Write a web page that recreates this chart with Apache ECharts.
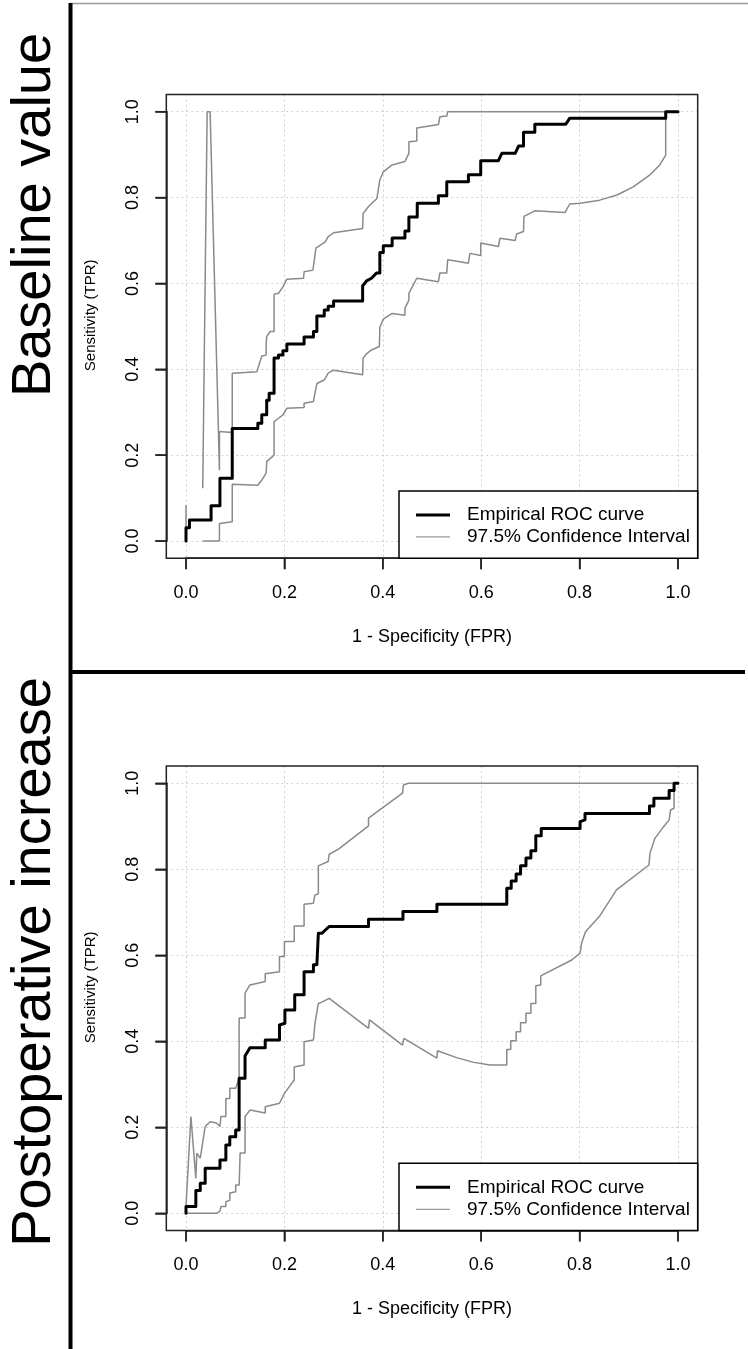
<!DOCTYPE html>
<html><head><meta charset="utf-8">
<script src="https://cdn.jsdelivr.net/npm/echarts@6/dist/echarts.min.js"></script>
<style>html,body{margin:0;padding:0;background:#fff}#c{width:748px;height:1349px}</style>
</head><body><div id="c"></div>
<script>
// ---------- data ----------
const panelTitles = ['Baseline value', 'Postoperative increase'];
const tickValues = [0, 0.2, 0.4, 0.6, 0.8, 1.0];
const seriesNames = ['Empirical ROC curve', '97.5% Confidence Interval'];
const xTitle = '1 - Specificity (FPR)';
const yTitle = 'Sensitivity (TPR)';

// Panel 1: Baseline value
const baseROC = [[0,0],[0,0.031],[0.007,0.031],[0.007,0.049],[0.051,0.049],[0.051,0.082],[0.069,0.082],[0.069,0.146],[0.094,0.146],[0.094,0.262],[0.146,0.262],[0.146,0.274],[0.154,0.274],[0.154,0.294],[0.164,0.294],[0.164,0.328],[0.169,0.328],[0.169,0.344],[0.179,0.344],[0.179,0.426],[0.188,0.426],[0.188,0.433],[0.197,0.433],[0.197,0.443],[0.205,0.443],[0.205,0.459],[0.240,0.459],[0.240,0.475],[0.259,0.475],[0.259,0.488],[0.266,0.488],[0.266,0.524],[0.281,0.524],[0.281,0.538],[0.289,0.538],[0.289,0.547],[0.300,0.547],[0.300,0.559],[0.359,0.559],[0.359,0.594],[0.367,0.606],[0.377,0.612],[0.387,0.624],[0.394,0.624],[0.394,0.672],[0.401,0.672],[0.401,0.688],[0.419,0.688],[0.419,0.706],[0.445,0.706],[0.445,0.722],[0.453,0.722],[0.453,0.755],[0.470,0.755],[0.470,0.787],[0.513,0.787],[0.513,0.804],[0.530,0.804],[0.530,0.837],[0.574,0.837],[0.574,0.853],[0.599,0.853],[0.599,0.886],[0.635,0.886],[0.642,0.903],[0.669,0.903],[0.676,0.920],[0.686,0.920],[0.686,0.952],[0.709,0.952],[0.709,0.971],[0.772,0.971],[0.780,0.985],[0.975,0.985],[0.975,1.0],[1.0,1.0]];
const baseUpper = [[0,0],[0,0.084],null,[0.034,0.123],[0.043,1.0],[0.049,1.0],[0.068,0.165],[0.068,0.255],[0.094,0.253],[0.094,0.391],[0.144,0.394],[0.154,0.431],[0.163,0.433],[0.163,0.46],[0.164,0.476],[0.171,0.488],[0.179,0.488],[0.179,0.575],[0.188,0.577],[0.197,0.592],[0.205,0.61],[0.239,0.612],[0.240,0.627],[0.258,0.631],[0.264,0.682],[0.283,0.697],[0.289,0.709],[0.300,0.718],[0.359,0.728],[0.360,0.763],[0.371,0.779],[0.388,0.798],[0.394,0.841],[0.401,0.860],[0.419,0.876],[0.445,0.884],[0.453,0.903],[0.453,0.93],[0.469,0.932],[0.469,0.962],[0.513,0.970],[0.516,0.988],[0.530,0.990],[0.532,1.0],[1.0,1.0]];
const baseLower = [[0.034,0],[0.068,0],[0.068,0.041],[0.094,0.045],[0.094,0.132],[0.146,0.130],[0.154,0.142],[0.163,0.158],[0.164,0.185],[0.179,0.2],[0.179,0.278],[0.188,0.286],[0.197,0.294],[0.205,0.309],[0.240,0.311],[0.240,0.321],[0.259,0.325],[0.266,0.367],[0.281,0.375],[0.289,0.391],[0.300,0.398],[0.359,0.387],[0.360,0.426],[0.367,0.436],[0.377,0.445],[0.393,0.453],[0.394,0.497],[0.401,0.517],[0.419,0.530],[0.445,0.526],[0.445,0.542],[0.453,0.561],[0.453,0.577],[0.469,0.612],[0.513,0.604],[0.516,0.624],[0.530,0.624],[0.532,0.655],[0.574,0.647],[0.577,0.670],[0.599,0.665],[0.599,0.694],[0.635,0.686],[0.638,0.705],[0.669,0.700],[0.672,0.715],[0.686,0.721],[0.687,0.756],[0.709,0.769],[0.770,0.765],[0.780,0.785],[0.801,0.787],[0.841,0.794],[0.876,0.806],[0.909,0.825],[0.943,0.853],[0.963,0.876],[0.975,0.899],[0.975,1.0],[1.0,1.0]];

// Panel 2: Postoperative increase
const postROC = [[0,0],[0,0.016],[0.020,0.016],[0.020,0.053],[0.029,0.053],[0.029,0.070],[0.039,0.070],[0.039,0.105],[0.069,0.105],[0.069,0.124],[0.081,0.124],[0.081,0.159],[0.089,0.159],[0.089,0.178],[0.101,0.178],[0.101,0.194],[0.108,0.194],[0.108,0.314],[0.120,0.314],[0.120,0.366],[0.130,0.385],[0.161,0.385],[0.161,0.403],[0.190,0.403],[0.190,0.438],[0.201,0.442],[0.201,0.473],[0.221,0.473],[0.221,0.508],[0.240,0.508],[0.240,0.562],[0.259,0.562],[0.259,0.578],[0.266,0.578],[0.269,0.651],[0.276,0.651],[0.291,0.667],[0.371,0.667],[0.371,0.684],[0.441,0.684],[0.441,0.702],[0.510,0.702],[0.510,0.719],[0.652,0.719],[0.652,0.756],[0.661,0.756],[0.661,0.773],[0.671,0.773],[0.671,0.789],[0.680,0.789],[0.680,0.808],[0.691,0.808],[0.691,0.826],[0.701,0.826],[0.701,0.843],[0.711,0.843],[0.711,0.878],[0.722,0.878],[0.722,0.895],[0.801,0.895],[0.801,0.911],[0.811,0.915],[0.811,0.930],[0.942,0.930],[0.942,0.947],[0.951,0.947],[0.951,0.965],[0.982,0.965],[0.982,0.983],[0.992,0.983],[0.992,1.0],[1.0,1.0]];
const postUpper = [[0,0],[0,0.016],[0.010,0.225],[0.020,0.081],[0.022,0.140],[0.029,0.128],[0.039,0.202],[0.049,0.213],[0.062,0.21],[0.069,0.202],[0.071,0.225],[0.081,0.225],[0.081,0.267],[0.089,0.267],[0.089,0.291],[0.101,0.291],[0.108,0.314],[0.108,0.454],[0.120,0.454],[0.120,0.512],[0.130,0.531],[0.161,0.539],[0.161,0.557],[0.190,0.562],[0.190,0.597],[0.200,0.597],[0.200,0.632],[0.220,0.632],[0.220,0.668],[0.240,0.668],[0.240,0.719],[0.259,0.721],[0.262,0.740],[0.269,0.743],[0.269,0.808],[0.289,0.818],[0.291,0.835],[0.310,0.847],[0.371,0.901],[0.371,0.919],[0.440,0.977],[0.442,0.996],[0.452,1.0],[1.0,1.0]];
const postLower = [[0,0],[0.039,0],[0.041,0.004],[0.050,0],[0.062,0],[0.069,0.005],[0.071,0.016],[0.081,0.016],[0.081,0.027],[0.089,0.030],[0.089,0.047],[0.101,0.050],[0.101,0.066],[0.108,0.066],[0.110,0.140],[0.120,0.140],[0.120,0.225],[0.130,0.240],[0.161,0.233],[0.161,0.248],[0.190,0.256],[0.200,0.279],[0.220,0.310],[0.220,0.34],[0.240,0.345],[0.240,0.399],[0.259,0.403],[0.262,0.441],[0.269,0.488],[0.276,0.491],[0.291,0.500],[0.371,0.430],[0.373,0.450],[0.440,0.391],[0.443,0.407],[0.510,0.361],[0.511,0.378],[0.55,0.362],[0.585,0.351],[0.618,0.345],[0.652,0.345],[0.652,0.381],[0.660,0.381],[0.660,0.401],[0.671,0.401],[0.671,0.422],[0.680,0.422],[0.680,0.443],[0.691,0.443],[0.691,0.465],[0.701,0.465],[0.701,0.488],[0.711,0.488],[0.711,0.529],[0.721,0.531],[0.721,0.552],[0.784,0.589],[0.801,0.605],[0.804,0.628],[0.812,0.655],[0.84,0.69],[0.875,0.752],[0.941,0.810],[0.943,0.837],[0.953,0.872],[0.970,0.898],[0.982,0.915],[0.985,0.938],[0.992,0.942],[0.992,1.0],[1.0,1.0]];

// ---------- chart ----------
const FONT = '"Liberation Sans", Arial, Helvetica, sans-serif';
const prep = arr => arr.map(p => p ? p : ['-', '-']);
const panels = [
  {roc: baseROC, up: baseUpper, lo: baseLower, y1: 111.7, y0: 541.0},
  {roc: postROC, up: postUpper, lo: postLower, y1: 783.3, y0: 1213.3}
];
const X0 = 186, X1 = 678, PAD = 0.04;   // R default 4% axis extension
const TICK_LEN = 11;
const grids = [], xAxes = [], yAxes = [], series = [], legends = [], boxes = [];
const split = {show: true, lineStyle: {color: '#d0d0d0', width: 1, type: [2, 3]}};
const axisInk = () => ({color: '#222', width: 1.5});
const hiddenAxis = gi => ({type: 'value', gridIndex: gi, min: 0, max: 1, show: false});
panels.forEach((p, i) => {
  const sx = (X1 - X0) * PAD, sy = (p.y0 - p.y1) * PAD;
  const boxTop = p.y1 - sy, boxBottom = p.y0 + sy, boxLeft = X0 - sx, boxRight = X1 + sx;
  const gi = grids.length;
  p.gi = gi; p.boxBottom = boxBottom; p.boxLeft = boxLeft;
  // (a) data grid = full plot box (frame drawn separately below)
  grids.push({left: boxLeft, top: boxTop, width: boxRight - boxLeft, height: boxBottom - boxTop, show: false});
  xAxes.push({type: 'value', gridIndex: gi, min: -PAD, max: 1 + PAD,
    axisLine: {show: false}, axisTick: {show: false, customValues: tickValues},
    axisLabel: {show: false, customValues: tickValues}, splitLine: split});
  yAxes.push({type: 'value', gridIndex: gi, min: -PAD, max: 1 + PAD,
    axisLine: {show: false}, axisTick: {show: false, customValues: tickValues},
    axisLabel: {show: false, customValues: tickValues}, splitLine: split});
  // (b) x-axis grid: spans 0..1 horizontally, its bottom (y=0) sits on the box bottom
  grids.push({left: X0, top: p.y1, width: X1 - X0, height: boxBottom - p.y1, show: false});
  xAxes.push({type: 'value', gridIndex: gi + 1, min: 0, max: 1, interval: 0.2,
    name: xTitle, nameLocation: 'middle', nameGap: 70,
    nameTextStyle: {fontSize: 18, color: '#000', fontFamily: FONT},
    axisLine: {show: true, lineStyle: axisInk()},
    axisTick: {show: true, length: TICK_LEN, lineStyle: axisInk()},
    axisLabel: {fontSize: 18, color: '#000', fontFamily: FONT, margin: 26, formatter: v => Number(v).toFixed(1)},
    splitLine: {show: false}});
  yAxes.push(hiddenAxis(gi + 1));
  // (c) y-axis grid: spans 0..1 vertically, its left (x=0) sits on the box left
  grids.push({left: boxLeft, top: p.y1, width: X1 - boxLeft, height: p.y0 - p.y1, show: false});
  xAxes.push(hiddenAxis(gi + 2));
  yAxes.push({type: 'value', gridIndex: gi + 2, min: 0, max: 1, interval: 0.2,
    name: yTitle, nameLocation: 'middle', nameGap: 68,
    nameTextStyle: {fontSize: 15, color: '#000', fontFamily: FONT, padding: [0, 0, 0, 22]},
    axisLine: {show: true, lineStyle: axisInk()},
    axisTick: {show: true, length: TICK_LEN, lineStyle: axisInk()},
    axisLabel: {fontSize: 18, color: '#000', fontFamily: FONT, margin: 24, rotate: 90, formatter: v => Number(v).toFixed(1)},
    splitLine: {show: false}});

  const common = {type: 'line', xAxisIndex: gi, yAxisIndex: gi, symbol: 'none', showSymbol: false, silent: true, animation: false};
  series.push(Object.assign({}, common, {name: seriesNames[1], data: prep(p.up), z: 3,
    lineStyle: {color: '#8a8a8a', width: 1.5}, itemStyle: {color: '#8a8a8a'}}));
  series.push(Object.assign({}, common, {name: seriesNames[1], data: prep(p.lo), z: 3,
    lineStyle: {color: '#8a8a8a', width: 1.5}, itemStyle: {color: '#8a8a8a'}}));
  series.push(Object.assign({}, common, {name: seriesNames[0], data: prep(p.roc), z: 4,
    lineStyle: {color: '#000', width: 3, join: 'round', cap: 'round'}, itemStyle: {color: '#000'}}));

  // plot frame (R box())
  boxes.push({type: 'rect', z: 1, silent: true,
    shape: {x: boxLeft, y: boxTop, width: boxRight - boxLeft, height: boxBottom - boxTop},
    style: {fill: null, stroke: '#222', lineWidth: 1.5}});
  // legend box (R-style) and two one-item legends so each sample has its own line weight
  const legTop = boxBottom - 67.2;
  boxes.push({type: 'rect', z: 10, shape: {x: 399, y: legTop, width: boxRight - 399, height: 67.2},
    style: {fill: '#fff', stroke: '#000', lineWidth: 1.5}});
  const legBase = {orient: 'vertical', left: 416, itemWidth: 34, itemGap: 0,
    padding: 0, selectedMode: false, icon: 'rect', z: 20,
    textStyle: {fontSize: 19, lineHeight: 22, color: '#000', fontFamily: FONT, padding: [0, 0, 0, 12]}};
  legends.push(Object.assign({}, legBase, {top: legTop + 13, itemHeight: 3,
    data: [{name: seriesNames[0], itemStyle: {color: '#000'}}]}));
  legends.push(Object.assign({}, legBase, {top: legTop + 35, itemHeight: 1.2,
    data: [{name: seriesNames[1], itemStyle: {color: '#9a9a9a'}}]}));
});

const baseGraphic = [
  {type: 'line', shape: {x1: 70, y1: 3.5, x2: 748, y2: 3.5}, style: {stroke: '#999', lineWidth: 1.5}},
  {type: 'line', shape: {x1: 70.5, y1: 3, x2: 70.5, y2: 1349}, style: {stroke: '#000', lineWidth: 4}},
  {type: 'line', shape: {x1: 70, y1: 672, x2: 745, y2: 672}, style: {stroke: '#000', lineWidth: 4}},
  {type: 'text', x: 35, y: 215, rotation: Math.PI / 2,
    style: {text: panelTitles[0], font: '56px ' + FONT, fill: '#000', align: 'center', verticalAlign: 'middle'}},
  {type: 'text', x: 35, y: 962, rotation: Math.PI / 2,
    style: {text: panelTitles[1], font: '56px ' + FONT, fill: '#000', align: 'center', verticalAlign: 'middle'}}
].concat(boxes);

const chart = echarts.init(document.getElementById('c'), null, {renderer: 'canvas'});
chart.setOption({
  animation: false,
  backgroundColor: '#fff',
  grid: grids, xAxis: xAxes, yAxis: yAxes, series: series, legend: legends,
  graphic: baseGraphic
});

// Outward R-style tick marks, positioned through the chart's own axis scales
try {
  const ticks = [];
  panels.forEach(p => {
    tickValues.forEach(v => {
      const px = chart.convertToPixel({xAxisIndex: p.gi}, v);
      const py = chart.convertToPixel({yAxisIndex: p.gi}, v);
      if (isFinite(px)) ticks.push({type: 'line', z: 1, silent: true,
        shape: {x1: px, y1: p.boxBottom, x2: px, y2: p.boxBottom + TICK_LEN},
        style: {stroke: '#222', lineWidth: 1.5}});
      if (isFinite(py)) ticks.push({type: 'line', z: 1, silent: true,
        shape: {x1: p.boxLeft - TICK_LEN, y1: py, x2: p.boxLeft, y2: py},
        style: {stroke: '#222', lineWidth: 1.5}});
    });
  });
  if (ticks.length) chart.setOption({graphic: baseGraphic.concat(ticks)});
} catch (e) { /* keep the chart as drawn */ }
</script></body></html>
